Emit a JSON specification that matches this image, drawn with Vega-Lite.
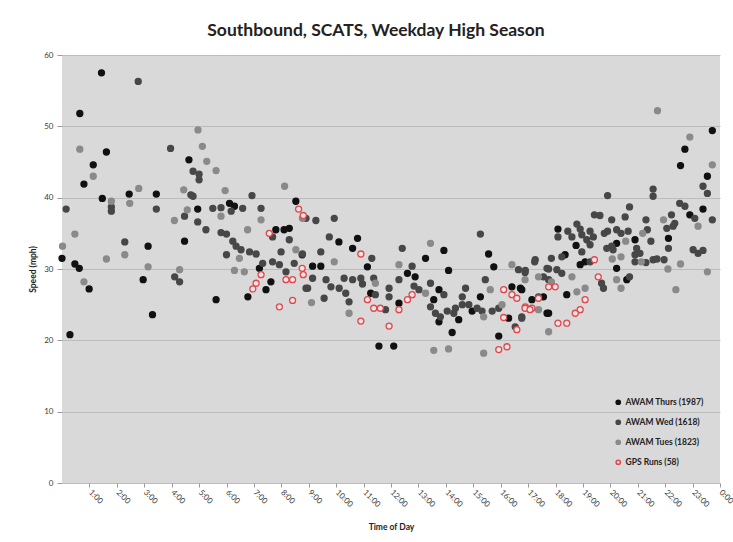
{
  "$schema": "https://vega.github.io/schema/vega-lite/v6.json",
  "width": 658,
  "height": 428,
  "autosize": {"type": "none"},
  "padding": {"left": 62, "top": 55, "right": 13, "bottom": 59},
  "background": "white",
  "title": {"text": "Southbound, SCATS, Weekday High Season", "font": "Lato", "fontSize": 17.5, "fontWeight": "bold", "color": "#222222", "offset": 12, "dx": -15},
  "config": {
    "view": {"fill": "#d9d9d9", "stroke": null},
    "axis": {"labelFont": "Lato", "titleFont": "Lato", "labelFontSize": 8, "titleFontSize": 8.5, "titleFontWeight": "bold", "labelColor": "#3a3a3a", "titleColor": "#222222", "tickColor": "#9a9a9a", "domain": false}
  },
  "datasets": {
    "pts": [
      {"t":1.62,"s":46.4,"g":"AWAM Thurs (1987)"},{"t":1.14,"s":44.6,"g":"AWAM Thurs (1987)"},{"t":4.63,"s":45.3,"g":"AWAM Thurs (1987)"},{"t":3.44,"s":40.5,"g":"AWAM Thurs (1987)"},{"t":2.45,"s":40.5,"g":"AWAM Thurs (1987)"},{"t":1.47,"s":39.9,"g":"AWAM Thurs (1987)"},{"t":4.95,"s":38.4,"g":"AWAM Thurs (1987)"},{"t":6.11,"s":39.2,"g":"AWAM Thurs (1987)"},{"t":6.29,"s":38.8,"g":"AWAM Thurs (1987)"},{"t":8.53,"s":39.5,"g":"AWAM Thurs (1987)"},{"t":0.0,"s":31.5,"g":"AWAM Thurs (1987)"},{"t":0.47,"s":30.7,"g":"AWAM Thurs (1987)"},{"t":0.63,"s":30.1,"g":"AWAM Thurs (1987)"},{"t":0.99,"s":27.2,"g":"AWAM Thurs (1987)"},{"t":3.14,"s":33.2,"g":"AWAM Thurs (1987)"},{"t":2.96,"s":28.5,"g":"AWAM Thurs (1987)"},{"t":3.3,"s":23.6,"g":"AWAM Thurs (1987)"},{"t":4.47,"s":33.9,"g":"AWAM Thurs (1987)"},{"t":5.62,"s":25.7,"g":"AWAM Thurs (1987)"},{"t":7.2,"s":30.1,"g":"AWAM Thurs (1987)"},{"t":7.8,"s":35.5,"g":"AWAM Thurs (1987)"},{"t":8.1,"s":35.5,"g":"AWAM Thurs (1987)"},{"t":8.29,"s":35.7,"g":"AWAM Thurs (1987)"},{"t":8.76,"s":32.0,"g":"AWAM Thurs (1987)"},{"t":6.78,"s":26.1,"g":"AWAM Thurs (1987)"},{"t":7.62,"s":28.2,"g":"AWAM Thurs (1987)"},{"t":7.44,"s":27.1,"g":"AWAM Thurs (1987)"},{"t":0.29,"s":20.8,"g":"AWAM Thurs (1987)"},{"t":0.8,"s":41.9,"g":"AWAM Thurs (1987)"},{"t":1.44,"s":57.5,"g":"AWAM Thurs (1987)"},{"t":0.65,"s":51.8,"g":"AWAM Thurs (1987)"},{"t":10.1,"s":33.8,"g":"AWAM Thurs (1987)"},{"t":10.78,"s":34.3,"g":"AWAM Thurs (1987)"},{"t":10.6,"s":32.9,"g":"AWAM Thurs (1987)"},{"t":9.14,"s":30.4,"g":"AWAM Thurs (1987)"},{"t":9.44,"s":30.4,"g":"AWAM Thurs (1987)"},{"t":11.14,"s":30.3,"g":"AWAM Thurs (1987)"},{"t":11.26,"s":26.6,"g":"AWAM Thurs (1987)"},{"t":11.56,"s":19.2,"g":"AWAM Thurs (1987)"},{"t":12.1,"s":19.2,"g":"AWAM Thurs (1987)"},{"t":12.29,"s":25.2,"g":"AWAM Thurs (1987)"},{"t":12.6,"s":29.4,"g":"AWAM Thurs (1987)"},{"t":12.88,"s":28.9,"g":"AWAM Thurs (1987)"},{"t":13.26,"s":31.5,"g":"AWAM Thurs (1987)"},{"t":13.93,"s":32.6,"g":"AWAM Thurs (1987)"},{"t":14.1,"s":29.8,"g":"AWAM Thurs (1987)"},{"t":13.56,"s":25.7,"g":"AWAM Thurs (1987)"},{"t":13.75,"s":27.1,"g":"AWAM Thurs (1987)"},{"t":13.75,"s":22.6,"g":"AWAM Thurs (1987)"},{"t":14.47,"s":22.9,"g":"AWAM Thurs (1987)"},{"t":14.23,"s":21.1,"g":"AWAM Thurs (1987)"},{"t":14.96,"s":24.1,"g":"AWAM Thurs (1987)"},{"t":15.26,"s":26.1,"g":"AWAM Thurs (1987)"},{"t":15.56,"s":32.1,"g":"AWAM Thurs (1987)"},{"t":15.75,"s":30.3,"g":"AWAM Thurs (1987)"},{"t":15.93,"s":20.6,"g":"AWAM Thurs (1987)"},{"t":16.29,"s":23.1,"g":"AWAM Thurs (1987)"},{"t":16.41,"s":27.5,"g":"AWAM Thurs (1987)"},{"t":16.72,"s":27.3,"g":"AWAM Thurs (1987)"},{"t":17.14,"s":25.7,"g":"AWAM Thurs (1987)"},{"t":17.56,"s":26.1,"g":"AWAM Thurs (1987)"},{"t":17.69,"s":23.8,"g":"AWAM Thurs (1987)"},{"t":23.72,"s":49.4,"g":"AWAM Thurs (1987)"},{"t":22.72,"s":46.8,"g":"AWAM Thurs (1987)"},{"t":22.56,"s":44.5,"g":"AWAM Thurs (1987)"},{"t":23.54,"s":43.0,"g":"AWAM Thurs (1987)"},{"t":23.38,"s":38.4,"g":"AWAM Thurs (1987)"},{"t":22.9,"s":37.6,"g":"AWAM Thurs (1987)"},{"t":22.12,"s":34.3,"g":"AWAM Thurs (1987)"},{"t":20.9,"s":34.1,"g":"AWAM Thurs (1987)"},{"t":20.23,"s":33.6,"g":"AWAM Thurs (1987)"},{"t":20.6,"s":28.5,"g":"AWAM Thurs (1987)"},{"t":20.23,"s":30.1,"g":"AWAM Thurs (1987)"},{"t":18.09,"s":35.6,"g":"AWAM Thurs (1987)"},{"t":18.75,"s":33.3,"g":"AWAM Thurs (1987)"},{"t":18.35,"s":32.0,"g":"AWAM Thurs (1987)"},{"t":18.9,"s":30.6,"g":"AWAM Thurs (1987)"},{"t":19.08,"s":31.0,"g":"AWAM Thurs (1987)"},{"t":18.41,"s":26.4,"g":"AWAM Thurs (1987)"},{"t":17.75,"s":23.8,"g":"AWAM Thurs (1987)"},{"t":16.77,"s":27.1,"g":"AWAM Thurs (1987)"},
      {"t":2.78,"s":56.3,"g":"AWAM Wed (1618)"},{"t":3.96,"s":46.9,"g":"AWAM Wed (1618)"},{"t":4.78,"s":43.7,"g":"AWAM Wed (1618)"},{"t":5.0,"s":43.3,"g":"AWAM Wed (1618)"},{"t":5.0,"s":42.5,"g":"AWAM Wed (1618)"},{"t":1.8,"s":38.7,"g":"AWAM Wed (1618)"},{"t":1.8,"s":38.1,"g":"AWAM Wed (1618)"},{"t":4.7,"s":40.4,"g":"AWAM Wed (1618)"},{"t":4.78,"s":40.2,"g":"AWAM Wed (1618)"},{"t":0.15,"s":38.4,"g":"AWAM Wed (1618)"},{"t":3.44,"s":38.4,"g":"AWAM Wed (1618)"},{"t":5.5,"s":38.5,"g":"AWAM Wed (1618)"},{"t":5.8,"s":38.6,"g":"AWAM Wed (1618)"},{"t":6.17,"s":38.1,"g":"AWAM Wed (1618)"},{"t":6.59,"s":38.5,"g":"AWAM Wed (1618)"},{"t":6.93,"s":40.3,"g":"AWAM Wed (1618)"},{"t":7.26,"s":38.5,"g":"AWAM Wed (1618)"},{"t":4.47,"s":37.4,"g":"AWAM Wed (1618)"},{"t":4.95,"s":36.6,"g":"AWAM Wed (1618)"},{"t":5.25,"s":35.5,"g":"AWAM Wed (1618)"},{"t":5.8,"s":35.1,"g":"AWAM Wed (1618)"},{"t":6.0,"s":34.9,"g":"AWAM Wed (1618)"},{"t":8.9,"s":37.1,"g":"AWAM Wed (1618)"},{"t":2.29,"s":33.8,"g":"AWAM Wed (1618)"},{"t":4.11,"s":28.9,"g":"AWAM Wed (1618)"},{"t":4.29,"s":28.2,"g":"AWAM Wed (1618)"},{"t":6.23,"s":33.9,"g":"AWAM Wed (1618)"},{"t":6.35,"s":33.2,"g":"AWAM Wed (1618)"},{"t":6.53,"s":32.7,"g":"AWAM Wed (1618)"},{"t":6.0,"s":32.0,"g":"AWAM Wed (1618)"},{"t":6.84,"s":32.4,"g":"AWAM Wed (1618)"},{"t":7.08,"s":32.1,"g":"AWAM Wed (1618)"},{"t":7.32,"s":30.8,"g":"AWAM Wed (1618)"},{"t":7.68,"s":34.5,"g":"AWAM Wed (1618)"},{"t":8.29,"s":34.1,"g":"AWAM Wed (1618)"},{"t":7.99,"s":32.4,"g":"AWAM Wed (1618)"},{"t":7.68,"s":31.0,"g":"AWAM Wed (1618)"},{"t":7.93,"s":30.6,"g":"AWAM Wed (1618)"},{"t":8.47,"s":30.8,"g":"AWAM Wed (1618)"},{"t":8.17,"s":29.6,"g":"AWAM Wed (1618)"},{"t":8.9,"s":27.3,"g":"AWAM Wed (1618)"},{"t":9.26,"s":36.8,"g":"AWAM Wed (1618)"},{"t":9.93,"s":37.1,"g":"AWAM Wed (1618)"},{"t":9.75,"s":34.5,"g":"AWAM Wed (1618)"},{"t":9.44,"s":32.4,"g":"AWAM Wed (1618)"},{"t":8.77,"s":32.1,"g":"AWAM Wed (1618)"},{"t":9.14,"s":28.7,"g":"AWAM Wed (1618)"},{"t":9.63,"s":28.5,"g":"AWAM Wed (1618)"},{"t":9.81,"s":27.5,"g":"AWAM Wed (1618)"},{"t":8.96,"s":27.3,"g":"AWAM Wed (1618)"},{"t":10.29,"s":28.7,"g":"AWAM Wed (1618)"},{"t":10.6,"s":28.5,"g":"AWAM Wed (1618)"},{"t":10.11,"s":27.3,"g":"AWAM Wed (1618)"},{"t":10.35,"s":26.6,"g":"AWAM Wed (1618)"},{"t":10.47,"s":25.4,"g":"AWAM Wed (1618)"},{"t":9.56,"s":25.9,"g":"AWAM Wed (1618)"},{"t":10.9,"s":28.7,"g":"AWAM Wed (1618)"},{"t":10.96,"s":27.9,"g":"AWAM Wed (1618)"},{"t":11.3,"s":31.5,"g":"AWAM Wed (1618)"},{"t":11.37,"s":28.7,"g":"AWAM Wed (1618)"},{"t":11.43,"s":26.4,"g":"AWAM Wed (1618)"},{"t":11.93,"s":27.3,"g":"AWAM Wed (1618)"},{"t":11.93,"s":26.1,"g":"AWAM Wed (1618)"},{"t":11.8,"s":24.3,"g":"AWAM Wed (1618)"},{"t":12.29,"s":28.5,"g":"AWAM Wed (1618)"},{"t":12.41,"s":32.9,"g":"AWAM Wed (1618)"},{"t":12.77,"s":30.4,"g":"AWAM Wed (1618)"},{"t":12.84,"s":27.6,"g":"AWAM Wed (1618)"},{"t":13.02,"s":27.1,"g":"AWAM Wed (1618)"},{"t":13.44,"s":28.0,"g":"AWAM Wed (1618)"},{"t":13.93,"s":26.4,"g":"AWAM Wed (1618)"},{"t":13.44,"s":24.7,"g":"AWAM Wed (1618)"},{"t":13.62,"s":23.8,"g":"AWAM Wed (1618)"},{"t":13.8,"s":23.3,"g":"AWAM Wed (1618)"},{"t":14.05,"s":24.1,"g":"AWAM Wed (1618)"},{"t":14.29,"s":23.8,"g":"AWAM Wed (1618)"},{"t":14.35,"s":24.5,"g":"AWAM Wed (1618)"},{"t":14.6,"s":26.1,"g":"AWAM Wed (1618)"},{"t":14.72,"s":27.3,"g":"AWAM Wed (1618)"},{"t":14.84,"s":25.0,"g":"AWAM Wed (1618)"},{"t":14.6,"s":25.0,"g":"AWAM Wed (1618)"},{"t":15.14,"s":24.5,"g":"AWAM Wed (1618)"},{"t":15.32,"s":24.1,"g":"AWAM Wed (1618)"},{"t":15.26,"s":34.9,"g":"AWAM Wed (1618)"},{"t":15.44,"s":28.5,"g":"AWAM Wed (1618)"},{"t":15.69,"s":24.1,"g":"AWAM Wed (1618)"},{"t":15.93,"s":24.5,"g":"AWAM Wed (1618)"},{"t":16.53,"s":21.9,"g":"AWAM Wed (1618)"},{"t":16.65,"s":29.9,"g":"AWAM Wed (1618)"},{"t":16.9,"s":29.8,"g":"AWAM Wed (1618)"},{"t":17.26,"s":31.3,"g":"AWAM Wed (1618)"},{"t":16.77,"s":23.3,"g":"AWAM Wed (1618)"},{"t":17.69,"s":30.1,"g":"AWAM Wed (1618)"},{"t":23.38,"s":41.6,"g":"AWAM Wed (1618)"},{"t":23.54,"s":40.6,"g":"AWAM Wed (1618)"},{"t":23.72,"s":36.9,"g":"AWAM Wed (1618)"},{"t":22.53,"s":39.2,"g":"AWAM Wed (1618)"},{"t":22.72,"s":38.8,"g":"AWAM Wed (1618)"},{"t":23.08,"s":37.1,"g":"AWAM Wed (1618)"},{"t":23.02,"s":32.7,"g":"AWAM Wed (1618)"},{"t":23.2,"s":32.2,"g":"AWAM Wed (1618)"},{"t":23.38,"s":32.6,"g":"AWAM Wed (1618)"},{"t":21.56,"s":41.2,"g":"AWAM Wed (1618)"},{"t":21.56,"s":40.2,"g":"AWAM Wed (1618)"},{"t":22.23,"s":37.6,"g":"AWAM Wed (1618)"},{"t":22.35,"s":36.4,"g":"AWAM Wed (1618)"},{"t":22.29,"s":36.0,"g":"AWAM Wed (1618)"},{"t":22.06,"s":35.7,"g":"AWAM Wed (1618)"},{"t":22.12,"s":32.9,"g":"AWAM Wed (1618)"},{"t":21.96,"s":31.3,"g":"AWAM Wed (1618)"},{"t":21.3,"s":36.9,"g":"AWAM Wed (1618)"},{"t":21.35,"s":35.5,"g":"AWAM Wed (1618)"},{"t":21.48,"s":33.9,"g":"AWAM Wed (1618)"},{"t":21.56,"s":31.3,"g":"AWAM Wed (1618)"},{"t":21.3,"s":30.9,"g":"AWAM Wed (1618)"},{"t":21.7,"s":31.4,"g":"AWAM Wed (1618)"},{"t":20.7,"s":38.7,"g":"AWAM Wed (1618)"},{"t":20.54,"s":37.3,"g":"AWAM Wed (1618)"},{"t":20.39,"s":35.0,"g":"AWAM Wed (1618)"},{"t":20.65,"s":35.3,"g":"AWAM Wed (1618)"},{"t":20.96,"s":32.9,"g":"AWAM Wed (1618)"},{"t":20.9,"s":32.0,"g":"AWAM Wed (1618)"},{"t":21.08,"s":32.2,"g":"AWAM Wed (1618)"},{"t":20.9,"s":31.0,"g":"AWAM Wed (1618)"},{"t":20.05,"s":36.9,"g":"AWAM Wed (1618)"},{"t":20.23,"s":35.5,"g":"AWAM Wed (1618)"},{"t":19.9,"s":40.3,"g":"AWAM Wed (1618)"},{"t":19.42,"s":37.6,"g":"AWAM Wed (1618)"},{"t":19.62,"s":37.5,"g":"AWAM Wed (1618)"},{"t":19.9,"s":35.3,"g":"AWAM Wed (1618)"},{"t":19.78,"s":35.0,"g":"AWAM Wed (1618)"},{"t":20.1,"s":32.7,"g":"AWAM Wed (1618)"},{"t":20.7,"s":28.9,"g":"AWAM Wed (1618)"},{"t":18.78,"s":36.3,"g":"AWAM Wed (1618)"},{"t":18.9,"s":35.6,"g":"AWAM Wed (1618)"},{"t":18.96,"s":34.8,"g":"AWAM Wed (1618)"},{"t":19.14,"s":34.1,"g":"AWAM Wed (1618)"},{"t":19.26,"s":35.3,"g":"AWAM Wed (1618)"},{"t":19.38,"s":34.5,"g":"AWAM Wed (1618)"},{"t":19.26,"s":33.4,"g":"AWAM Wed (1618)"},{"t":19.87,"s":32.9,"g":"AWAM Wed (1618)"},{"t":20.05,"s":33.2,"g":"AWAM Wed (1618)"},{"t":18.09,"s":34.5,"g":"AWAM Wed (1618)"},{"t":18.45,"s":35.3,"g":"AWAM Wed (1618)"},{"t":18.6,"s":34.5,"g":"AWAM Wed (1618)"},{"t":18.96,"s":32.4,"g":"AWAM Wed (1618)"},{"t":18.23,"s":31.7,"g":"AWAM Wed (1618)"},{"t":17.85,"s":31.5,"g":"AWAM Wed (1618)"},{"t":17.24,"s":31.0,"g":"AWAM Wed (1618)"},{"t":19.68,"s":28.0,"g":"AWAM Wed (1618)"},{"t":19.75,"s":27.3,"g":"AWAM Wed (1618)"},{"t":19.26,"s":31.0,"g":"AWAM Wed (1618)"},{"t":17.75,"s":30.0,"g":"AWAM Wed (1618)"},{"t":18.05,"s":29.9,"g":"AWAM Wed (1618)"},{"t":18.23,"s":29.4,"g":"AWAM Wed (1618)"},{"t":16.89,"s":29.5,"g":"AWAM Wed (1618)"},{"t":17.56,"s":28.9,"g":"AWAM Wed (1618)"},{"t":17.75,"s":28.5,"g":"AWAM Wed (1618)"},{"t":17.38,"s":26.1,"g":"AWAM Wed (1618)"},{"t":16.77,"s":23.1,"g":"AWAM Wed (1618)"},
      {"t":4.96,"s":49.5,"g":"AWAM Tues (1823)"},{"t":0.65,"s":46.8,"g":"AWAM Tues (1823)"},{"t":5.12,"s":47.2,"g":"AWAM Tues (1823)"},{"t":5.28,"s":45.1,"g":"AWAM Tues (1823)"},{"t":1.14,"s":43.0,"g":"AWAM Tues (1823)"},{"t":5.62,"s":43.8,"g":"AWAM Tues (1823)"},{"t":2.8,"s":41.3,"g":"AWAM Tues (1823)"},{"t":1.8,"s":39.5,"g":"AWAM Tues (1823)"},{"t":2.47,"s":39.2,"g":"AWAM Tues (1823)"},{"t":4.44,"s":41.1,"g":"AWAM Tues (1823)"},{"t":4.57,"s":38.3,"g":"AWAM Tues (1823)"},{"t":5.95,"s":41.0,"g":"AWAM Tues (1823)"},{"t":5.8,"s":37.4,"g":"AWAM Tues (1823)"},{"t":4.1,"s":36.8,"g":"AWAM Tues (1823)"},{"t":6.77,"s":35.5,"g":"AWAM Tues (1823)"},{"t":7.26,"s":36.9,"g":"AWAM Tues (1823)"},{"t":8.12,"s":41.6,"g":"AWAM Tues (1823)"},{"t":0.47,"s":34.9,"g":"AWAM Tues (1823)"},{"t":0.02,"s":33.2,"g":"AWAM Tues (1823)"},{"t":0.8,"s":28.2,"g":"AWAM Tues (1823)"},{"t":1.62,"s":31.4,"g":"AWAM Tues (1823)"},{"t":2.29,"s":32.0,"g":"AWAM Tues (1823)"},{"t":3.14,"s":30.3,"g":"AWAM Tues (1823)"},{"t":4.29,"s":29.9,"g":"AWAM Tues (1823)"},{"t":6.47,"s":31.5,"g":"AWAM Tues (1823)"},{"t":6.29,"s":29.8,"g":"AWAM Tues (1823)"},{"t":6.65,"s":29.6,"g":"AWAM Tues (1823)"},{"t":8.53,"s":32.7,"g":"AWAM Tues (1823)"},{"t":8.77,"s":37.1,"g":"AWAM Tues (1823)"},{"t":9.93,"s":31.0,"g":"AWAM Tues (1823)"},{"t":9.1,"s":25.3,"g":"AWAM Tues (1823)"},{"t":10.47,"s":23.8,"g":"AWAM Tues (1823)"},{"t":11.43,"s":28.0,"g":"AWAM Tues (1823)"},{"t":12.29,"s":30.6,"g":"AWAM Tues (1823)"},{"t":13.26,"s":26.6,"g":"AWAM Tues (1823)"},{"t":13.44,"s":33.6,"g":"AWAM Tues (1823)"},{"t":13.56,"s":18.6,"g":"AWAM Tues (1823)"},{"t":14.1,"s":18.8,"g":"AWAM Tues (1823)"},{"t":15.62,"s":27.1,"g":"AWAM Tues (1823)"},{"t":15.38,"s":23.3,"g":"AWAM Tues (1823)"},{"t":16.05,"s":25.0,"g":"AWAM Tues (1823)"},{"t":15.38,"s":18.2,"g":"AWAM Tues (1823)"},{"t":16.41,"s":30.6,"g":"AWAM Tues (1823)"},{"t":17.38,"s":28.9,"g":"AWAM Tues (1823)"},{"t":21.72,"s":52.2,"g":"AWAM Tues (1823)"},{"t":22.9,"s":48.5,"g":"AWAM Tues (1823)"},{"t":23.72,"s":44.6,"g":"AWAM Tues (1823)"},{"t":23.2,"s":36.0,"g":"AWAM Tues (1823)"},{"t":23.54,"s":29.6,"g":"AWAM Tues (1823)"},{"t":22.56,"s":30.7,"g":"AWAM Tues (1823)"},{"t":22.39,"s":27.1,"g":"AWAM Tues (1823)"},{"t":21.94,"s":36.9,"g":"AWAM Tues (1823)"},{"t":22.1,"s":30.0,"g":"AWAM Tues (1823)"},{"t":21.18,"s":35.0,"g":"AWAM Tues (1823)"},{"t":21.13,"s":31.0,"g":"AWAM Tues (1823)"},{"t":20.56,"s":33.9,"g":"AWAM Tues (1823)"},{"t":20.39,"s":31.7,"g":"AWAM Tues (1823)"},{"t":20.23,"s":28.5,"g":"AWAM Tues (1823)"},{"t":20.39,"s":27.3,"g":"AWAM Tues (1823)"},{"t":20.07,"s":31.4,"g":"AWAM Tues (1823)"},{"t":18.6,"s":28.9,"g":"AWAM Tues (1823)"},{"t":16.89,"s":28.5,"g":"AWAM Tues (1823)"},{"t":17.85,"s":28.2,"g":"AWAM Tues (1823)"},{"t":19.08,"s":27.3,"g":"AWAM Tues (1823)"},{"t":18.78,"s":26.8,"g":"AWAM Tues (1823)"},{"t":17.75,"s":21.2,"g":"AWAM Tues (1823)"},{"t":17.38,"s":24.3,"g":"AWAM Tues (1823)"},
      {"t":8.63,"s":38.4,"g":"GPS Runs (58)"},{"t":8.8,"s":37.5,"g":"GPS Runs (58)"},{"t":7.56,"s":35.0,"g":"GPS Runs (58)"},{"t":7.26,"s":29.2,"g":"GPS Runs (58)"},{"t":7.08,"s":28.0,"g":"GPS Runs (58)"},{"t":6.96,"s":27.2,"g":"GPS Runs (58)"},{"t":8.17,"s":28.5,"g":"GPS Runs (58)"},{"t":8.41,"s":28.5,"g":"GPS Runs (58)"},{"t":8.76,"s":30.1,"g":"GPS Runs (58)"},{"t":8.8,"s":29.2,"g":"GPS Runs (58)"},{"t":7.93,"s":24.7,"g":"GPS Runs (58)"},{"t":8.41,"s":25.6,"g":"GPS Runs (58)"},{"t":10.9,"s":32.1,"g":"GPS Runs (58)"},{"t":11.14,"s":25.7,"g":"GPS Runs (58)"},{"t":11.37,"s":24.5,"g":"GPS Runs (58)"},{"t":11.61,"s":24.5,"g":"GPS Runs (58)"},{"t":10.9,"s":22.7,"g":"GPS Runs (58)"},{"t":11.93,"s":22.0,"g":"GPS Runs (58)"},{"t":12.29,"s":24.3,"g":"GPS Runs (58)"},{"t":12.6,"s":25.7,"g":"GPS Runs (58)"},{"t":12.77,"s":26.4,"g":"GPS Runs (58)"},{"t":15.93,"s":18.7,"g":"GPS Runs (58)"},{"t":16.23,"s":19.1,"g":"GPS Runs (58)"},{"t":16.11,"s":27.1,"g":"GPS Runs (58)"},{"t":16.11,"s":23.2,"g":"GPS Runs (58)"},{"t":16.59,"s":21.5,"g":"GPS Runs (58)"},{"t":16.41,"s":26.4,"g":"GPS Runs (58)"},{"t":16.59,"s":25.9,"g":"GPS Runs (58)"},{"t":16.9,"s":24.7,"g":"GPS Runs (58)"},{"t":17.14,"s":24.5,"g":"GPS Runs (58)"},{"t":17.38,"s":25.9,"g":"GPS Runs (58)"},{"t":19.42,"s":31.3,"g":"GPS Runs (58)"},{"t":19.56,"s":28.9,"g":"GPS Runs (58)"},{"t":19.08,"s":25.7,"g":"GPS Runs (58)"},{"t":18.9,"s":24.3,"g":"GPS Runs (58)"},{"t":18.72,"s":23.8,"g":"GPS Runs (58)"},{"t":18.09,"s":22.4,"g":"GPS Runs (58)"},{"t":18.41,"s":22.4,"g":"GPS Runs (58)"},{"t":17.99,"s":27.5,"g":"GPS Runs (58)"},{"t":17.75,"s":27.5,"g":"GPS Runs (58)"},{"t":16.89,"s":24.5,"g":"GPS Runs (58)"},{"t":17.07,"s":24.3,"g":"GPS Runs (58)"}
    ]
  },
  "data": {"name": "pts"},
  "mark": {"type": "point", "shape": "circle", "size": 36, "opacity": 1, "strokeWidth": 1.3, "filled": false},
  "encoding": {
    "x": {"field": "t", "type": "quantitative", "scale": {"domain": [0, 24], "nice": false, "zero": false},
      "axis": {"title": "Time of Day", "values": [1,2,3,4,5,6,7,8,9,10,11,12,13,14,15,16,17,18,19,20,21,22,23,24], "labelExpr": "datum.value == 24 ? '0:00' : datum.value + ':00'", "labelAngle": 45, "labelAlign": "left", "labelBaseline": "middle", "labelBound": false, "grid": false, "tickSize": 4, "labelPadding": 4, "titlePadding": 14}},
    "y": {"field": "s", "type": "quantitative", "scale": {"domain": [0, 60], "nice": false},
      "axis": {"title": "Speed (mph)", "values": [0,10,20,30,40,50,60], "grid": true, "gridColor": "#bcbcbc", "gridWidth": 1, "tickSize": 5, "labelPadding": 4, "titlePadding": 6}},
    "fill": {"field": "g", "type": "nominal", "scale": {"domain": ["AWAM Thurs (1987)", "AWAM Wed (1618)", "AWAM Tues (1823)", "GPS Runs (58)"], "range": ["#111111", "#474747", "#8a8a8a", "#efe4e4"]},
      "legend": {"title": null, "orient": "none", "legendX": 552, "legendY": 343, "labelFont": "Lato", "labelFontSize": 8.5, "labelFontWeight": "bold", "labelColor": "#222222", "symbolSize": 18, "rowPadding": 9, "labelOffset": 3}},
    "stroke": {"field": "g", "type": "nominal", "scale": {"domain": ["AWAM Thurs (1987)", "AWAM Wed (1618)", "AWAM Tues (1823)", "GPS Runs (58)"], "range": ["#111111", "#474747", "#8a8a8a", "#e0474c"]},
      "legend": {"title": null, "orient": "none", "legendX": 552, "legendY": 343, "labelFont": "Lato", "labelFontSize": 8.5, "labelFontWeight": "bold", "labelColor": "#222222", "symbolSize": 18, "rowPadding": 9, "labelOffset": 3}}
  }
}
